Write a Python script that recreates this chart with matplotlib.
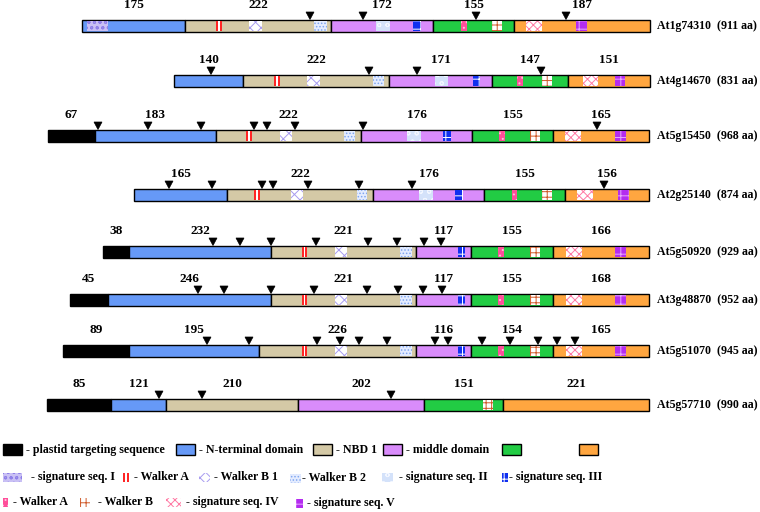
import matplotlib.pyplot as plt
from matplotlib.patches import Rectangle, Polygon

plt.rcParams['font.family'] = ['Liberation Serif', 'DejaVu Serif']
plt.rcParams['font.weight'] = 'bold'
plt.rcParams['hatch.linewidth'] = 0.7

# proteins (top to bottom)
names = ['At1g74310', 'At4g14670', 'At5g15450', 'At2g25140',
         'At5g50920', 'At3g48870', 'At5g51070', 'At5g57710']
aa_len = [911, 831, 968, 874, 929, 952, 945, 990]
has_transit = [False, False, True, False, True, True, True, True]

# domain sizes in aa (label above each domain)
domain_aa = [[175, 222, 172, 155, 187],
             [140, 222, 171, 147, 151],
             [67, 183, 222, 176, 155, 165],
             [165, 222, 176, 155, 156],
             [38, 232, 221, 117, 155, 166],
             [45, 246, 221, 117, 155, 168],
             [89, 195, 226, 116, 154, 165],
             [85, 121, 210, 202, 151, 221]]

# domain borders along the schematic axis
domain_edges = [[82, 185, 331, 433, 514, 650],
                [174, 243, 389, 492, 568, 650],
                [48, 95, 216, 361, 472, 553, 649],
                [134, 227, 373, 484, 565, 649],
                [103, 129, 271, 416, 471, 553, 649],
                [70, 108, 271, 416, 471, 553, 649],
                [63, 129, 259, 416, 471, 553, 649],
                [47, 111, 166, 298, 424, 503, 649]]

# triangles (sites) along the schematic axis
sites = [[310, 363, 476, 566],
         [211, 369, 417, 541],
         [98, 148, 201, 254, 267, 295, 363, 597],
         [169, 212, 262, 273, 308, 359, 412, 604],
         [213, 240, 271, 316, 368, 397, 424, 441],
         [198, 224, 271, 314, 367, 398, 423, 442],
         [207, 249, 317, 340, 359, 387, 435, 448, 482, 510, 538, 557, 575],
         [159, 202, 391]]

# conserved motifs: (kind, start, end)
motifs_1 = [('sig1', 87, 108), ('wa1', 216, 222), ('wb1', 249, 262), ('wb2', 314, 327),
            ('sig2', 376, 390), ('sig3', 413, 421), ('wa2', 461, 467), ('wb', 492, 502),
            ('sig4', 526, 542), ('sig5', 576, 587)]
motifs_2 = [('wa1', 274, 280), ('wb1', 307, 320), ('wb2', 373, 384), ('sig2', 435, 448),
            ('sig3', 473, 480), ('wa2', 517, 523), ('wb', 542, 552), ('sig4', 583, 598),
            ('sig5', 615, 625)]
motifs_3 = [('wa1', 246, 252), ('wb1', 280, 292), ('wb2', 344, 355), ('sig2', 407, 421),
            ('sig3', 443, 451), ('wa2', 499, 505), ('wb', 530, 540), ('sig4', 565, 581),
            ('sig5', 615, 626)]
motifs_4 = [('wa1', 254, 260), ('wb1', 291, 303), ('wb2', 357, 367), ('sig2', 419, 433),
            ('sig3', 455, 463), ('wa2', 512, 517), ('wb', 542, 552), ('sig4', 577, 593),
            ('sig5', 618, 629)]
motifs_5 = [('wa1', 302, 307), ('wb1', 335, 347), ('wb2', 400, 412), ('sig3', 458, 465),
            ('wa2', 498, 504), ('wb', 530, 540), ('sig4', 566, 582), ('sig5', 615, 626)]
motifs_8 = [('wb', 483, 493)]
motifs = [motifs_1, motifs_2, motifs_3, motifs_4, motifs_5, motifs_5, motifs_5, motifs_8]

colors = ['black', '#6699f7', '#d4c9a6', '#d98cfb', '#22cc44', '#ffa640']

motif_style = {
    'sig1': dict(fc='#c9c0f4', ec='#8f80e8', hatch='ooo'),
    'wb1': dict(fc='white', ec='#a89cf0', hatch='xxx'),
    'wb2': dict(fc='#e4ecff', ec='#7fa6f0', hatch='.....'),
    'sig2': dict(fc='#d4e2fa', ec='#f2f6ff', hatch='oo'),
    'sig3': dict(fc='#1030f0', ec='white', hatch='++'),
    'wa2': dict(fc='#ff4f9a', ec='#ffc0dc', hatch='...'),
    'wb': dict(fc='white', ec='#d05a2a', hatch='+++'),
    'sig4': dict(fc='white', ec='#ff7aa4', hatch='xxxx'),
    'sig5': dict(fc='#b42cf0', ec='#e8a8ff', hatch='++'),
}


def draw_motif(ax, kind, x0, x1, yc, h):
    y0 = yc - h / 2
    if kind == 'wa1':
        w = x1 - x0
        ax.add_patch(Rectangle((x0, y0), w, h, fc='white', lw=0, zorder=3))
        ax.vlines([x0 + w * 0.2, x0 + w * 0.8], y0, y0 + h, colors='#ff2020', lw=1.4, zorder=4)
    else:
        st = motif_style[kind]
        ax.add_patch(Rectangle((x0, y0), x1 - x0, h, fc=st['fc'], ec=st['ec'],
                               hatch=st['hatch'], lw=0, zorder=3))


row_y = [26, 81, 136, 195, 252, 300, 351, 405]
bar_h = 12

fig = plt.figure(figsize=(7.6, 5.12), dpi=100)
ax = fig.add_axes([0, 0, 1, 1])
ax.set_xlim(0, 760)
ax.set_ylim(512, 0)
ax.axis('off')

for i in range(len(names)):
    yc = row_y[i]
    top = yc - bar_h / 2
    edges = domain_edges[i]
    cols = colors if has_transit[i] else colors[1:]
    for j in range(len(edges) - 1):
        ax.add_patch(Rectangle((edges[j], top), edges[j + 1] - edges[j], bar_h,
                               fc=cols[j], ec='black', lw=1.0, zorder=2))
        ax.text((edges[j] + edges[j + 1]) / 2, top - 15, str(domain_aa[i][j]),
                ha='center', va='center', fontsize=9.5)
    for kind, a, b in motifs[i]:
        draw_motif(ax, kind, a, b, yc, bar_h - 2)
    for s in sites[i]:
        ax.add_patch(Polygon([(s - 4, top - 8), (s + 4, top - 8), (s, top - 0.5)],
                             closed=True, fc='black', ec='black', lw=0.5, zorder=5))
    ax.text(657, yc, f'{names[i]}  ({aa_len[i]} aa)', ha='left', va='center', fontsize=8.6)

# legend
leg_fs = 8.6
dom_legend = [(3, 'black', ' - plastid targeting sequence'),
              (176, colors[1], ' - N-terminal domain'),
              (313, colors[2], ' - NBD 1'),
              (383, colors[3], ' - middle domain'),
              (502, colors[4], ''),
              (579, colors[5], '')]
for x, c, t in dom_legend:
    ax.add_patch(Rectangle((x, 444), 19, 11, fc=c, ec='black', lw=1.0))
    if t:
        ax.text(x + 20, 450, t, ha='left', va='center', fontsize=leg_fs)

mot_legend = [('sig1', 3, 22, 477, ' - signature seq. I', 28),
              ('wa1', 123, 129, 477, ' - Walker A', 131),
              ('wb1', 199, 210, 477, ' - Walker B 1', 211),
              ('wb2', 290, 301, 478, '- Walker B 2', 302),
              ('sig2', 382, 393, 477, ' - signature seq. II', 396),
              ('sig3', 502, 508, 477, '- signature seq. III', 509),
              ('wa2', 3, 8, 502, ' - Walker A', 10),
              ('wb', 80, 90, 502, ' - Walker B', 95),
              ('sig4', 166, 181, 502, ' - signature seq. IV', 183),
              ('sig5', 296, 303, 503, ' - signature seq. V', 304)]
for kind, a, b, y, t, tx in mot_legend:
    draw_motif(ax, kind, a, b, y, 9)
    ax.text(tx, y, t, ha='left', va='center', fontsize=leg_fs)

fig.savefig('out.png', dpi=100)
